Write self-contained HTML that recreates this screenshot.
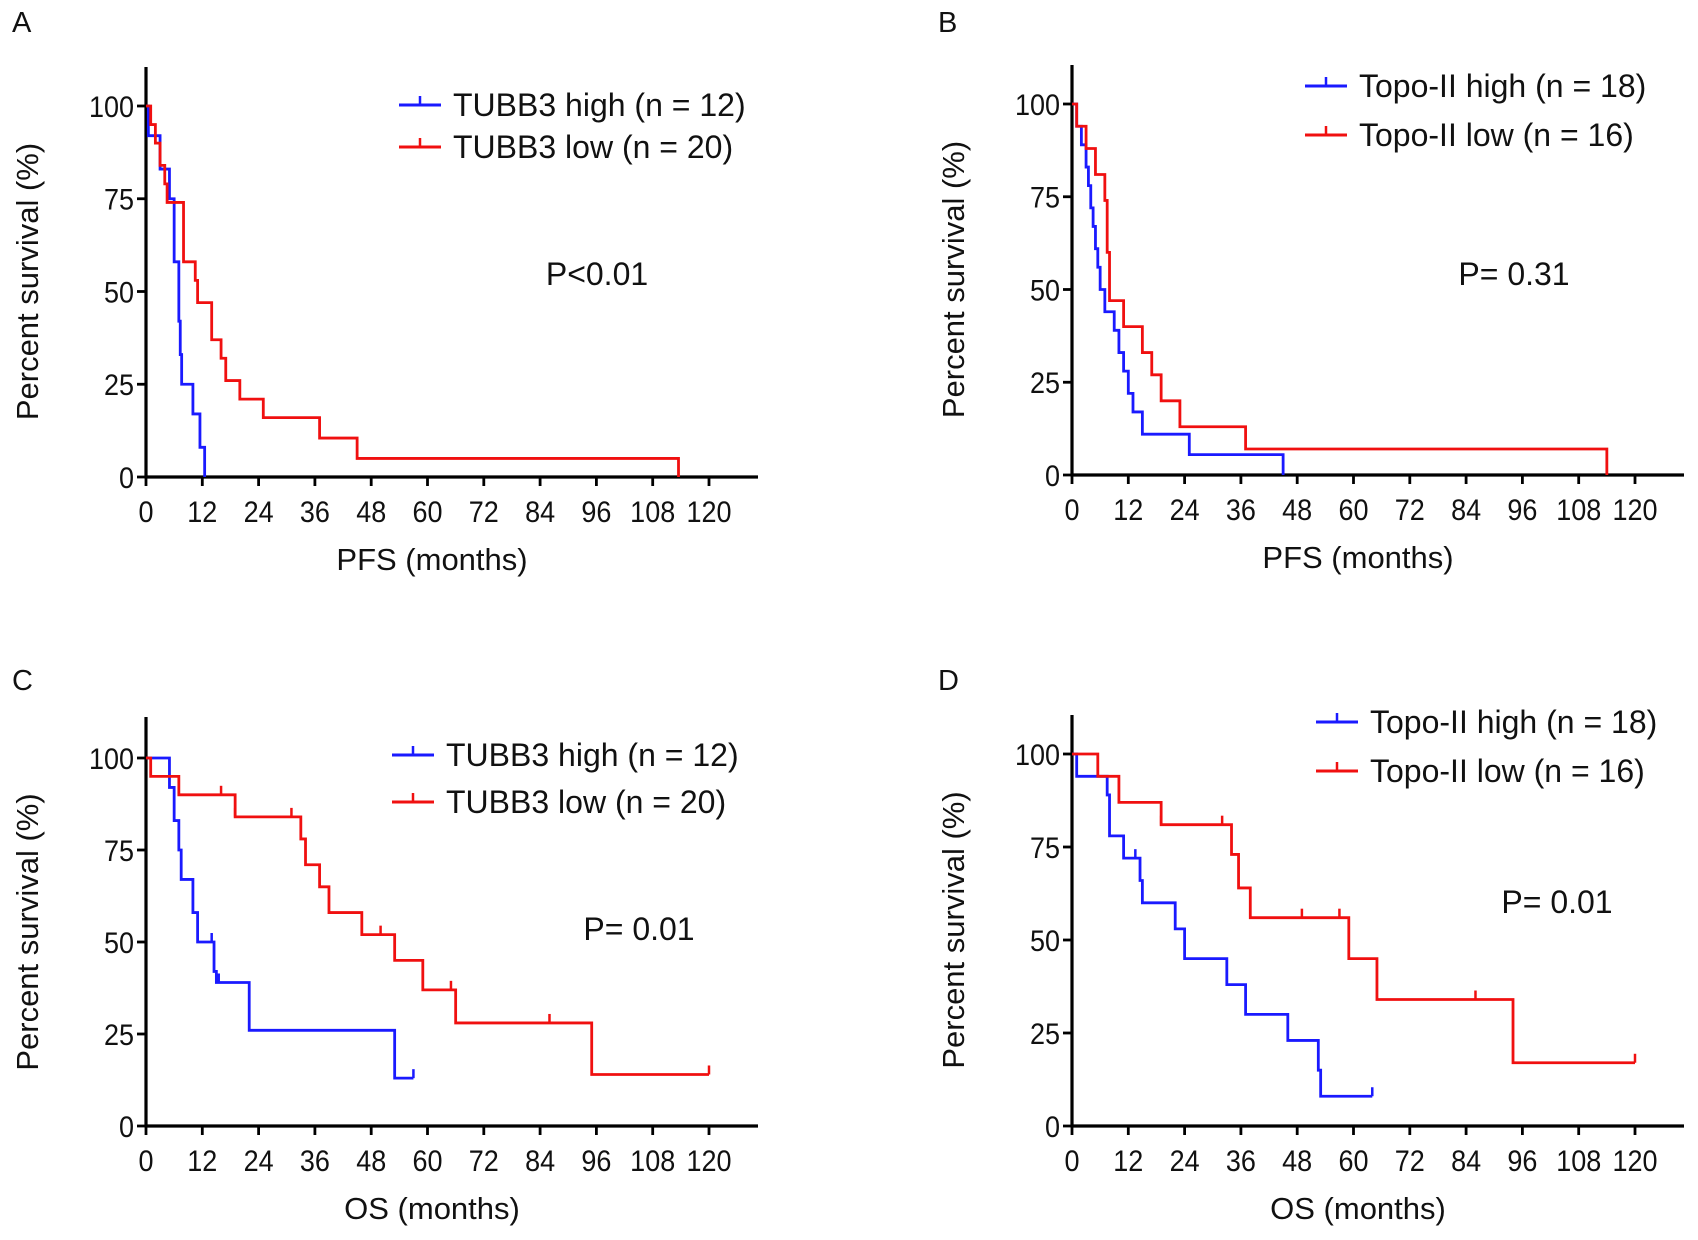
<!DOCTYPE html>
<html><head><meta charset="utf-8"><style>
html,body{margin:0;padding:0;background:#fff;}
svg{display:block;font-family:"Liberation Sans",Arial,sans-serif;}
</style></head><body>
<svg id="fig" width="1698" height="1240" viewBox="0 0 1698 1240"></svg>
<script>
// ---- data ----
const xTicks=[0,12,24,36,48,60,72,84,96,108,120];
const yTicks=[0,25,50,75,100];
// Panel A (PFS, TUBB3)
const aHighT=[0,0.5,3,5,6,7,7.3,7.6,10,11.5,12.5];
const aHighS=[100,92,83,75,58,42,33,25,17,8,0];
const aHighC=[];
const aLowT=[0,1,2,3,4,4.5,8,10.5,11,14,16,17,20,25,37,45,113.5];
const aLowS=[100,95,90,84,79,74,58,53,47,37,32,26,21,16,10.5,5,0];
const aLowC=[];
// Panel B (PFS, Topo-II)
const bHighT=[0,1,2,3,3.5,4,4.5,5,5.5,6,7,9,10,11,12,13,15,25,45];
const bHighS=[100,94,89,83,78,72,67,61,56,50,44,39,33,28,22,17,11,5.5,0];
const bHighC=[];
const bLowT=[0,1,3,5,7,7.5,8,11,15,17,19,23,37,114];
const bLowS=[100,94,88,81,74,60,47,40,33,27,20,13,7,0];
const bLowC=[];
// Panel C (OS, TUBB3)
const cHighT=[0,5,6,7,7.5,10,11,14.5,15,22,53];
const cHighS=[100,92,83,75,67,58,50,42,39,26,13];
const cHighC=[14,15.5,57];
const cHighEnd=57;
const cLowT=[0,1,7,19,33,34,37,39,46,53,59,66,95];
const cLowS=[100,95,90,84,78,71,65,58,52,45,37,28,14];
const cLowC=[16,19,31,50,65,86,120];
const cLowEnd=120;
// Panel D (OS, Topo-II)
const dHighT=[0,1,7.5,8,11,14.5,15,22,24,33,37,46,52.5,53];
const dHighS=[100,94,89,78,72,66,60,53,45,38,30,23,15,8];
const dHighC=[13.5,64];
const dHighEnd=64;
const dLowT=[0,5.5,10,19,34,35.5,38,59,65,94];
const dLowS=[100,94,87,81,73,64,56,45,34,17];
const dLowC=[19,32,49,57,86,120];
const dLowEnd=120;

const NS="http://www.w3.org/2000/svg";
const svg=document.getElementById('fig');
function mk(tag,attrs,parent){const e=document.createElementNS(NS,tag);for(const k in attrs)e.setAttribute(k,attrs[k]);(parent||svg).appendChild(e);return e;}
function txt(s,attrs,parent){const e=mk('text',attrs,parent);e.textContent=s;return e;}

function panel(p){
  const g=mk('g',{});
  
  
  const X=v=>p.x0+(v/120)*(p.x120-p.x0);
  const Y=v=>p.y0-(v/100)*(p.y0-p.y100);
  const lab=txt(p.id,{x:p.lx,y:p.ly,'font-size':29,fill:'#111'},g);
  
  
  const ya=mk('line',{x1:p.x0,y1:p.top,x2:p.x0,y2:p.y0+1.5,stroke:'#000','stroke-width':3.2},g);
  
  
  const xa=mk('line',{x1:p.x0-1.5,y1:p.y0,x2:p.xend,y2:p.y0,stroke:'#000','stroke-width':3.2},g);
  
  
  xTicks.forEach(t=>{
    mk('line',{x1:X(t),y1:p.y0,x2:X(t),y2:p.y0+9,stroke:'#000','stroke-width':2.8},g);
    const l=txt(String(t),{x:X(t),y:p.y0+45,'font-size':30,'text-anchor':'middle',fill:'#111',transform:`translate(${X(t)},0) scale(0.9,1) translate(${-X(t)},0)`},g);
    
    
  });
  yTicks.forEach(t=>{
    mk('line',{x1:p.x0-9,y1:Y(t),x2:p.x0,y2:Y(t),stroke:'#000','stroke-width':2.8},g);
    const l=txt(String(t),{x:p.x0-12,y:Y(t)+11,'font-size':30,'text-anchor':'end',fill:'#111',transform:`translate(${p.x0-12},0) scale(0.9,1) translate(${-(p.x0-12)},0)`},g);
    
    
  });
  const xt=txt(p.xtitle,{x:(p.x0+p.xend)/2-20,y:p.y0+93,'font-size':31,'text-anchor':'middle',fill:'#111'},g);
  
  
  const cy=(p.y0+p.y100)/2-10;
  const yt=txt('Percent survival (%)',{x:0,y:0,'font-size':31,'text-anchor':'middle',fill:'#111',transform:`translate(${p.x0-108},${cy}) rotate(-90)`},g);
  
  
  const pv=txt(p.pval,{x:p.px,y:p.py,'font-size':32,'text-anchor':'middle',fill:'#111'},g);
  
  
  p.series.forEach((s,i)=>{
    let d=`M${X(s.t[0])},${Y(s.s[0])}`;
    for(let k=1;k<s.t.length;k++){d+=`H${X(s.t[k])}V${Y(s.s[k])}`;}
    if(s.end!==undefined)d+=`H${X(s.end)}`;
    const path=mk('path',{d:d,fill:'none',stroke:s.color,'stroke-width':2.8},g);
    
    
    s.c.forEach(ct=>{
      let v=s.s[0];
      for(let k=0;k<s.t.length;k++){if(s.t[k]<=ct)v=s.s[k];}
      const m=mk('line',{x1:X(ct),y1:Y(v),x2:X(ct),y2:Y(v)-9,stroke:s.color,'stroke-width':2.5},g);
      
      
    });
    const ly=p.legY[i];
    const lg=mk('g',{},g);
    
    
    mk('line',{x1:p.legX,y1:ly,x2:p.legX+42,y2:ly,stroke:s.color,'stroke-width':3},lg);
    mk('line',{x1:p.legX+21,y1:ly,x2:p.legX+21,y2:ly-9,stroke:s.color,'stroke-width':2.5},lg);
    txt(s.label,{x:p.legX+54,y:ly+11,'font-size':32,fill:'#111'},lg);
  });
}

panel({id:'A',lx:12,ly:32,x0:146,x120:709,xend:758,y0:477,y100:106,top:67,xtitle:'PFS (months)',pval:'P<0.01',px:597,py:285,legX:399,legY:[105,147],
  series:[{key:'tubb3-high',color:'#1a1aff',t:aHighT,s:aHighS,c:aHighC,label:'TUBB3 high (n = 12)'},
          {key:'tubb3-low',color:'#f01010',t:aLowT,s:aLowS,c:aLowC,label:'TUBB3 low (n = 20)'}]});
panel({id:'B',lx:938,ly:32,x0:1072,x120:1635,xend:1684,y0:475,y100:104,top:65,xtitle:'PFS (months)',pval:'P= 0.31',px:1514,py:285,legX:1305,legY:[86,135],
  series:[{key:'topo-high',color:'#1a1aff',t:bHighT,s:bHighS,c:bHighC,label:'Topo-II high (n = 18)'},
          {key:'topo-low',color:'#f01010',t:bLowT,s:bLowS,c:bLowC,label:'Topo-II low (n = 16)'}]});
panel({id:'C',lx:12,ly:690,x0:146,x120:709,xend:758,y0:1126,y100:758,top:717,xtitle:'OS (months)',pval:'P= 0.01',px:639,py:940,legX:392,legY:[755,802],
  series:[{key:'tubb3-high',color:'#1a1aff',t:cHighT,s:cHighS,c:cHighC,end:cHighEnd,label:'TUBB3 high (n = 12)'},
          {key:'tubb3-low',color:'#f01010',t:cLowT,s:cLowS,c:cLowC,end:cLowEnd,label:'TUBB3 low (n = 20)'}]});
panel({id:'D',lx:938,ly:690,x0:1072,x120:1635,xend:1684,y0:1126,y100:754,top:715,xtitle:'OS (months)',pval:'P= 0.01',px:1557,py:913,legX:1316,legY:[722,771],
  series:[{key:'topo-high',color:'#1a1aff',t:dHighT,s:dHighS,c:dHighC,end:dHighEnd,label:'Topo-II high (n = 18)'},
          {key:'topo-low',color:'#f01010',t:dLowT,s:dLowS,c:dLowC,end:dLowEnd,label:'Topo-II low (n = 16)'}]});
</script>
</body></html>
